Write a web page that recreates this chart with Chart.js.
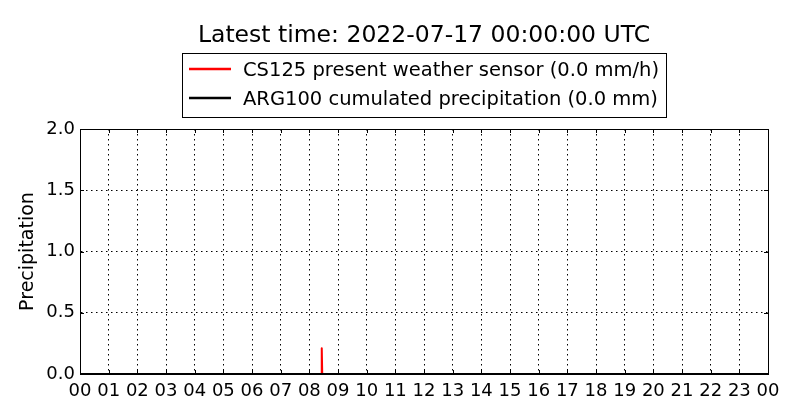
<!DOCTYPE html>
<html>
<head>
<meta charset="utf-8">
<script src="https://cdn.jsdelivr.net/npm/chart.js@4.4.0/dist/chart.umd.min.js"></script>
<style>
  html, body { margin: 0; padding: 0; background: #fff; }
  #chart { display: block; }
</style>
</head>
<body>
<canvas id="chart" width="800" height="420"></canvas>
<script>
// data (time in hours of the day)
const titleText = 'Latest time: 2022-07-17 00:00:00 UTC';

const cs125Times = [0, 8.4167, 8.4333, 8.45, 24];   // 08:25 .. 08:27 spike
const cs125Values = [0, 0, 0.21, 0, 0];
const cs125Label = 'CS125 present weather sensor (0.0 mm/h)';

const argTimes = [0, 24];
const argValues = [0, 0];
const argLabel = 'ARG100 cumulated precipitation (0.0 mm)';

const hourTicks = [0, 1, 2, 3, 4, 5, 6, 7, 8, 9, 10, 11, 12, 13, 14, 15, 16, 17, 18, 19, 20, 21, 22, 23, 24];
const precipTicks = [0, 0.5, 1.0, 1.5, 2.0];

Chart.defaults.font.family = '"DejaVu Sans", sans-serif';
Chart.defaults.color = '#000';

function toPoints(xs, ys) {
    return xs.map((x, i) => ({ x: x, y: ys[i] }));
}

// title, boxed legend, full frame and inward tick marks (matplotlib look)
const frameAndLegend = {
    id: 'frameAndLegend',
    afterDraw(chart) {
        const ctx = chart.ctx;
        const a = chart.chartArea;
        const xs = chart.scales.x;
        const ys = chart.scales.y;
        ctx.save();
        ctx.setLineDash([]);

        // tick marks pointing inside
        ctx.strokeStyle = '#000';
        ctx.lineWidth = 1;
        ctx.beginPath();
        hourTicks.forEach(h => {
            const px = Math.round(xs.getPixelForValue(h)) + 0.5;
            ctx.moveTo(px, a.bottom); ctx.lineTo(px, a.bottom - 4);
            ctx.moveTo(px, a.top); ctx.lineTo(px, a.top + 4);
        });
        precipTicks.forEach(v => {
            const py = Math.round(ys.getPixelForValue(v)) + 0.5;
            ctx.moveTo(a.left, py); ctx.lineTo(a.left + 4, py);
            ctx.moveTo(a.right, py); ctx.lineTo(a.right - 4, py);
        });
        ctx.stroke();

        // frame
        ctx.strokeRect(Math.round(a.left) + 0.5, Math.round(a.top) + 0.5,
            Math.round(a.right - a.left), Math.round(a.bottom - a.top));

        // title centred over the axes
        ctx.fillStyle = '#000';
        ctx.font = '23.5px "DejaVu Sans"';
        ctx.textAlign = 'center';
        ctx.textBaseline = 'alphabetic';
        ctx.fillText(titleText, (a.left + a.right) / 2, 41.5);

        // legend box
        ctx.fillStyle = '#fff';
        ctx.fillRect(182.5, 53.5, 484, 64);
        ctx.strokeStyle = '#000';
        ctx.strokeRect(182.5, 53.5, 484, 64);
        ctx.font = '19.5px "DejaVu Sans"';
        ctx.textAlign = 'left';
        chart.data.datasets.forEach((ds, i) => {
            const y = 69 + i * 29;
            ctx.strokeStyle = ds.borderColor;
            ctx.lineWidth = 2.5;
            ctx.beginPath();
            ctx.moveTo(189, y);
            ctx.lineTo(231, y);
            ctx.stroke();
            ctx.fillStyle = '#000';
            ctx.fillText(ds.label, 243, y + 7);
        });
        ctx.restore();
    }
};

new Chart(document.getElementById('chart').getContext('2d'), {
    type: 'line',
    data: {
        datasets: [
            {
                label: cs125Label,
                data: toPoints(cs125Times, cs125Values),
                borderColor: '#ff0000',
                borderWidth: 2,
                borderJoinStyle: 'round',
                pointRadius: 0,
                tension: 0,
                order: 1
            },
            {
                label: argLabel,
                data: toPoints(argTimes, argValues),
                borderColor: '#000000',
                borderWidth: 2,
                pointRadius: 0,
                tension: 0,
                order: 0
            }
        ]
    },
    options: {
        responsive: false,
        devicePixelRatio: 1,
        animation: false,
        layout: { padding: { top: 129, right: 32, bottom: 0, left: 0 } },
        plugins: {
            legend: { display: false },
            title: { display: false },
            tooltip: { enabled: false }
        },
        scales: {
            x: {
                type: 'linear',
                min: 0,
                max: 24,
                afterFit: s => { s.height = 46; },
                afterBuildTicks: s => { s.ticks = hourTicks.map(v => ({ value: v })); },
                ticks: {
                    autoSkip: false,
                    maxRotation: 0,
                    padding: 7,
                    font: { size: 18 },
                    callback: v => String(v % 24).padStart(2, '0')
                },
                grid: { color: '#000', lineWidth: 1, drawTicks: false },
                border: { display: true, color: '#000', width: 1, dash: [1.5, 3.5] }
            },
            y: {
                min: 0,
                max: 2,
                afterFit: s => { s.width = 80; },
                afterBuildTicks: s => { s.ticks = precipTicks.map(v => ({ value: v })); },
                ticks: {
                    padding: 5,
                    font: { size: 18 },
                    callback: v => v.toFixed(1)
                },
                grid: { color: '#000', lineWidth: 1, drawTicks: false },
                border: { display: true, color: '#000', width: 1, dash: [1.5, 3.5] },
                title: {
                    display: true,
                    text: 'Precipitation',
                    font: { size: 19, lineHeight: 1.2 },
                    padding: { top: 17, bottom: 0 }
                }
            }
        }
    },
    plugins: [frameAndLegend]
});
</script>
</body>
</html>
